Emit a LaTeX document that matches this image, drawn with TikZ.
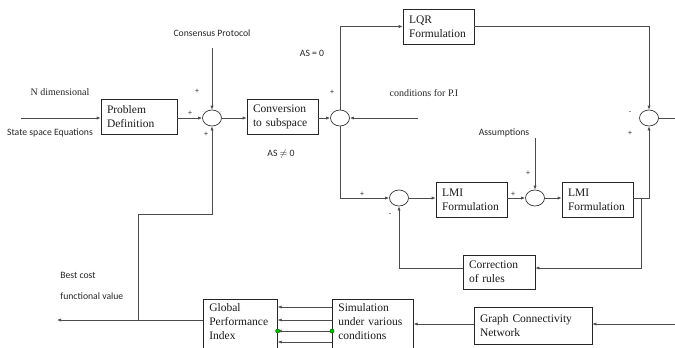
\documentclass[tikz,border=0pt]{standalone}
\usepackage{fontspec}
\setmainfont{Liberation Serif}
\newfontfamily\lblfont{Carlito}
\usetikzlibrary{arrows.meta,shapes.geometric,calc}

\begin{document}
\begin{tikzpicture}[x=1bp,y=-1bp,
  line width=0.7bp,
  boxtext/.style={font=\fontsize{11.5bp}{14bp}\selectfont, align=left,
    inner xsep=6bp, inner ysep=4bp, text=black!90},
  blk/.style={boxtext, draw=black!85, minimum height=35bp, text width=#1},
  edge/.style={draw=black!85},
  sumpt/.style={ellipse, draw=black!80, minimum width=19bp, minimum height=16bp, inner sep=0},
  wire/.style={draw=black!70},
  arr/.style={wire, -{Latex[length=4bp,width=3.2bp]}},
  lbl/.style={font=\lblfont\fontsize{9.7bp}{11bp}\selectfont, inner sep=0, text=black!85},
  ser/.style={font=\fontsize{10bp}{12bp}\selectfont, inner sep=0, text=black!85},
  sgn/.style={font=\lblfont\fontsize{8bp}{9bp}\selectfont, inner sep=0, text=black!80},
  joint/.style={circle, fill=green!75!black, draw=green!35!black, line width=0.4bp,
    inner sep=0, minimum size=4.2bp},
]
\useasboundingbox (0,0) rectangle (675,347);
\clip (0,0) rectangle (675,347);

% ---- blocks ----
\node[blk=64bp] (pd)   at (139,117)   {Problem\\Definition};
\node[blk=59bp] (conv) at (282.5,117) {Conversion\\to subspace};
\node[blk=59bp] (lqr)  at (438.5,26.5) {LQR\\Formulation};
\node[blk=59bp] (lmi1) at (471.5,200) {LMI\\Formulation};
\node[blk=59bp] (lmi2) at (597.5,200) {LMI\\Formulation};
\node[blk=60bp, minimum height=34bp] (corr) at (499,272) {Correction\\of rules};
\node[blk=106bp, minimum height=37bp] (gcn) at (533,325.5) {Graph Connectivity\\Network};

% blocks running past the lower edge
\node[boxtext, text width=62bp, anchor=north west] (gpi) at (203,299) {Global\\Performance\\Index};
\node[boxtext, text width=69bp, anchor=north west] (sim) at (332,299) {Simulation\\under various\\conditions};
\draw[edge] ($(gpi.north west)+(0,70)$) -- (gpi.north west) -- (gpi.north east) -- ($(gpi.north east)+(0,70)$);
\draw[edge] ($(sim.north west)+(0,70)$) -- (sim.north west) -- (sim.north east) -- ($(sim.north east)+(0,70)$);

% ---- summing points ----
\node[sumpt] (s1) at (212,118) {};
\node[sumpt] (s2) at (340,118) {};
\node[sumpt] (s3) at (649,118) {};
\node[sumpt] (s5) at (399,198) {};
\node[sumpt] (s4) at (535,198) {};

% ---- free ends ----
\coordinate (inL)   at (21,118);
\coordinate (cpTop) at (212,48);
\coordinate (condR) at (418,118);
\coordinate (asTop) at (535,138);
\coordinate (outR)  at (675,118);
\coordinate (gIn)   at (675,324);
\coordinate (outL)  at (57,320);
\coordinate (j1)    at (138,320);
\coordinate (bend)  at (138,214);
\coordinate (j2)    at (641,198);

% ---- labels ----
\node[ser] (tN)    at (60,92)   {N dimensional};
\node[lbl] (tSS)   at (50,133)  {State space Equations};
\node[lbl] (tCP)   at (212,33)  {Consensus Protocol};
\node[lbl] (tAS0)  at (312,53)  {AS = 0};
\node[lbl] (tAS1)  at (281,154) {AS $\neq$ 0};
\node[ser] (tPI)   at (424,93)  {conditions for P.I};
\node[lbl] (tAs)   at (504,133) {Assumptions};
\node[lbl, anchor=west] (tB1) at (60,275) {Best cost};
\node[lbl, anchor=west] (tB2) at (60,296) {functional value};

% signs
\node[sgn] at (197,91)  {+};
\node[sgn] at (190,113) {+};
\node[sgn] at (206,134) {+};
\node[sgn] at (332,92)  {+};
\node[sgn] at (630,113) {-};
\node[sgn] at (630,133) {+};
\node[sgn] at (528,173) {+};
\node[sgn] at (513,194) {+};
\node[sgn] at (362,194) {+};
\node[sgn] at (390,215) {-};

% ---- connectors ----
\draw[arr] (inL) -- (pd.west |- inL);
\draw[arr] (pd.east |- s1) -- (s1.west);
\draw[arr] (cpTop) -- (s1.north);
\draw[arr] (s1.east) -- (conv.west |- s1);
\draw[arr] (conv.east |- s2) -- (s2.west);
\draw[arr] (s2.north) |- (lqr.west);
\draw[arr] (lqr.east) -| (s3.north);
\draw[wire] (s3.east) -- (outR);
\draw[arr] (condR) -- (s2.east);
\draw[arr] (s2.south) |- (s5.west);
\draw[arr] (s5.east) -- (lmi1.west |- s5);
\draw[arr] (lmi1.east |- s4) -- (s4.west);
\draw[arr] (asTop) -- (s4.north);
\draw[arr] (s4.east) -- (lmi2.west |- s4);
\draw[arr] (lmi2.east |- s4) -| (s3.south);
\draw[arr] (j2) |- ($(corr.east)+(0,-4)$);
\draw[arr] ($(corr.west)+(0,-4)$) -| (s5.south);

\draw[arr] (gIn) -- (gcn.east |- gIn);
\draw[arr] (gcn.west |- gIn) -- (sim.east |- gIn);
\foreach \dy in {8,21,32,43}
  \draw[arr] ($(sim.north west)+(0,\dy)$) -- ($(gpi.north east)+(0,\dy)$);
\draw[arr] ($(gpi.north west)+(0,21)$) -- (outL);
\draw[arr] (j1) -- (bend) -| (s1.south);

\node[joint] (dotA) at ($(gpi.north east)+(0,32)$) {};
\node[joint] (dotB) at ($(sim.north west)+(0,32)$) {};
\end{tikzpicture}
\end{document}
